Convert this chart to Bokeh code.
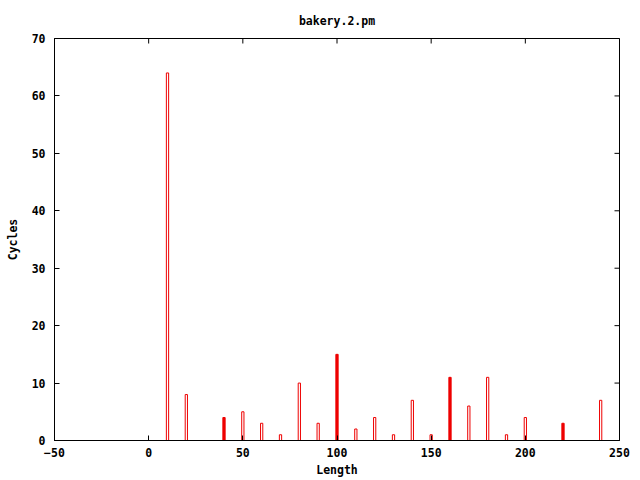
import math
from bokeh.plotting import figure
from bokeh.models import Range1d, FixedTicker, ColumnDataSource
from bokeh.embed import file_html
from bokeh.resources import INLINE

# Data
lengths = [10, 20, 40, 50, 60, 70, 80, 90, 100, 110, 120, 130, 140, 150, 160, 170, 180, 190, 200, 220, 240]
cycles = [64, 8, 4, 5, 3, 1, 10, 3, 15, 2, 4, 1, 7, 1, 11, 6, 11, 1, 4, 3, 7]
x_ticks = [-50, 0, 50, 100, 150, 200, 250]
y_ticks = [0, 10, 20, 30, 40, 50, 60, 70]
solid_bars = [40, 100, 160, 220]  # bars that render as solid in the reference

X_MIN, X_MAX = -50, 250
Y_MIN, Y_MAX = 0, 70
BOX_W = 1.2
RED = "#ee0000"
FONT = "DejaVu Sans Mono"
FS = "11.5px"
TICK = 5

src = ColumnDataSource(dict(
    left=[x - BOX_W / 2 for x in lengths],
    right=[x + BOX_W / 2 for x in lengths],
    top=cycles,
    bottom=[0] * len(lengths),
    fill=[RED if x in solid_bars else "white" for x in lengths],
))

p = figure(width=640, height=480, x_range=Range1d(X_MIN, X_MAX), y_range=Range1d(Y_MIN, Y_MAX),
           output_backend="svg", toolbar_location=None,
           min_border_left=54, min_border_right=21, min_border_top=38, min_border_bottom=40,
           title="bakery.2.pm")

p.quad(left="left", right="right", top="top", bottom="bottom", source=src,
       fill_color="fill", line_color=RED, line_width=1)

# mirrored inward ticks on the top and right borders (gnuplot style)
p.scatter(x=[X_MAX] * len(y_ticks), y=y_ticks, marker="dash", size=2 * TICK,
          line_color="black", line_width=1)
p.scatter(x=x_ticks, y=[Y_MAX] * len(x_ticks), marker="dash", size=2 * TICK,
          angle=math.pi / 2, line_color="black", line_width=1)

p.grid.visible = False
p.outline_line_color = "black"
p.outline_line_width = 1
p.background_fill_color = "white"
p.border_fill_color = "white"

p.title.align = "center"
p.title.text_font = FONT
p.title.text_font_size = FS
p.title.text_font_style = "bold"
p.title.text_color = "black"
p.title.standoff = 22

def style_axis(ax, ticks):
    ax.ticker = FixedTicker(ticks=ticks)
    ax.minor_tick_line_color = None
    ax.major_tick_in = TICK
    ax.major_tick_out = 0
    ax.major_tick_line_color = "black"
    ax.axis_line_color = "black"
    ax.major_label_text_font = FONT
    ax.major_label_text_font_size = FS
    ax.major_label_text_font_style = "bold"
    ax.major_label_text_color = "black"
    ax.axis_label_text_font = FONT
    ax.axis_label_text_font_size = FS
    ax.axis_label_text_font_style = "bold"
    ax.axis_label_text_color = "black"

xa = p.xaxis[0]
ya = p.yaxis[0]
style_axis(xa, x_ticks)
style_axis(ya, y_ticks)
xa.axis_label = "Length"
ya.axis_label = "Cycles"
xa.major_label_standoff = 7
xa.axis_label_standoff = 3
ya.major_label_standoff = 9
ya.axis_label_standoff = 9

open("out.html", "w").write(file_html(p, INLINE))
